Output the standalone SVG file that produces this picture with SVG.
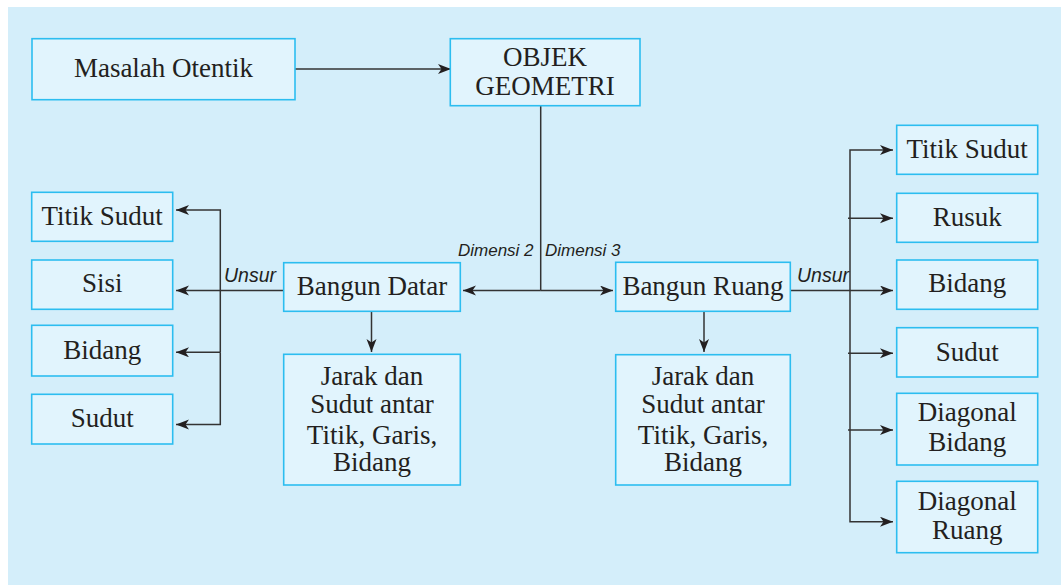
<svg xmlns="http://www.w3.org/2000/svg" width="1061" height="585" viewBox="0 0 1061 585">
<style>
.box{fill:#e1f4fd;stroke:#2cbdf0;stroke-width:1.6}
.t{font-family:'Liberation Serif','Times New Roman',serif;font-size:27px;fill:#231f20;text-anchor:middle}
.lbl{font-family:'Liberation Sans',Arial,sans-serif;font-style:italic;font-size:17px;fill:#231f20}
.u{font-size:19.5px}
.c{stroke:#333;stroke-width:1.5;fill:none}
.a{marker-end:url(#ah)}
</style>
<defs>
<marker id="ah" markerUnits="userSpaceOnUse" markerWidth="14" markerHeight="12" refX="13" refY="5" orient="auto">
<path d="M0,0 L13,5 L0,10 L3.5,5 Z" fill="#231f20"/>
</marker>
</defs>
<rect x="0" y="0" width="1061" height="585" fill="#ffffff"/>
<rect x="8" y="7" width="1053" height="578" fill="#d4eefa"/>

<g id="connectors">
<line class="c a" x1="295" y1="69" x2="451" y2="69"/>
<line class="c" x1="540.7" y1="105.7" x2="540.7" y2="290.5"/>
<line class="c a" x1="540.7" y1="290.5" x2="463" y2="290.5"/>
<line class="c a" x1="540.7" y1="290.5" x2="613" y2="290.5"/>
<line class="c a" x1="371.5" y1="311.3" x2="371.5" y2="352"/>
<line class="c a" x1="704" y1="311.3" x2="704" y2="352"/>
<line class="c a" x1="283.7" y1="290.5" x2="176" y2="290.5"/>
<path class="c a" d="M220.3,352.3 V210 H176"/>
<path class="c a" d="M220.3,352.3 V424.5 H176"/>
<line class="c a" x1="220.3" y1="352.3" x2="176" y2="352.3"/>
<line class="c a" x1="790.3" y1="290.5" x2="893" y2="290.5"/>
<path class="c a" d="M850,290.5 V150 H893"/>
<path class="c a" d="M850,290.5 V521.7 H893"/>
<line class="c a" x1="848" y1="218.3" x2="893" y2="218.3"/>
<line class="c a" x1="848" y1="353.3" x2="893" y2="353.3"/>
<line class="c a" x1="848" y1="430" x2="893" y2="430"/>
<text class="lbl" x="458" y="256">Dimensi 2</text>
<text class="lbl" x="545" y="256">Dimensi 3</text>
<text class="lbl u" x="224" y="281.5">Unsur</text>
<text class="lbl u" x="797" y="281.5">Unsur</text>
</g>

<g id="masalah"><rect class="box" x="32" y="38.7" width="263" height="61"/><text class="t" x="163.5" y="76.5">Masalah Otentik</text></g>
<g id="objek"><rect class="box" x="450.3" y="38.7" width="189.7" height="67"/><text class="t" x="545" y="65.5">OBJEK</text><text class="t" x="545" y="94.5">GEOMETRI</text></g>

<g id="bangun-datar"><rect class="box" x="283.7" y="262.7" width="176.6" height="48.6"/><text class="t" x="372" y="294.8">Bangun Datar</text></g>
<g id="bangun-ruang"><rect class="box" x="615.7" y="262.3" width="174.6" height="49"/><text class="t" x="703" y="294.8">Bangun Ruang</text></g>

<g id="jarak-datar"><rect class="box" x="283.7" y="354.3" width="176.6" height="130.7"/>
<text class="t" x="372" y="384.5">Jarak dan</text><text class="t" x="372" y="413.2">Sudut antar</text><text class="t" x="372" y="443.8">Titik, Garis,</text><text class="t" x="372" y="471.2">Bidang</text></g>
<g id="jarak-ruang"><rect class="box" x="615.7" y="354.7" width="174.6" height="130.3"/>
<text class="t" x="703" y="384.5">Jarak dan</text><text class="t" x="703" y="413.2">Sudut antar</text><text class="t" x="703" y="443.8">Titik, Garis,</text><text class="t" x="703" y="471.2">Bidang</text></g>

<g id="l-titik-sudut"><rect class="box" x="31.7" y="192.3" width="141" height="49"/><text class="t" x="102.2" y="224.8">Titik Sudut</text></g>
<g id="l-sisi"><rect class="box" x="31.7" y="260" width="141" height="49.3"/><text class="t" x="102.2" y="291.5">Sisi</text></g>
<g id="l-bidang"><rect class="box" x="31.7" y="325.3" width="141" height="50.7"/><text class="t" x="102.2" y="358.5">Bidang</text></g>
<g id="l-sudut"><rect class="box" x="31.7" y="394.3" width="141" height="49.7"/><text class="t" x="102.2" y="427.2">Sudut</text></g>

<g id="r-titik-sudut"><rect class="box" x="896.7" y="125.3" width="141" height="49"/><text class="t" x="967.2" y="158.2">Titik Sudut</text></g>
<g id="r-rusuk"><rect class="box" x="896.7" y="193.3" width="141" height="49"/><text class="t" x="967.2" y="225.5">Rusuk</text></g>
<g id="r-bidang"><rect class="box" x="896.7" y="260" width="141" height="49.3"/><text class="t" x="967.2" y="292.2">Bidang</text></g>
<g id="r-sudut"><rect class="box" x="896.7" y="327.7" width="141" height="49.3"/><text class="t" x="967.2" y="360.5">Sudut</text></g>
<g id="r-diagonal-bidang"><rect class="box" x="896.7" y="393.3" width="141" height="71.7"/><text class="t" x="967.2" y="420.5">Diagonal</text><text class="t" x="967.2" y="451.2">Bidang</text></g>
<g id="r-diagonal-ruang"><rect class="box" x="896.7" y="481.3" width="141" height="71.4"/><text class="t" x="967.2" y="509.5">Diagonal</text><text class="t" x="967.2" y="538.8">Ruang</text></g>
</svg>
